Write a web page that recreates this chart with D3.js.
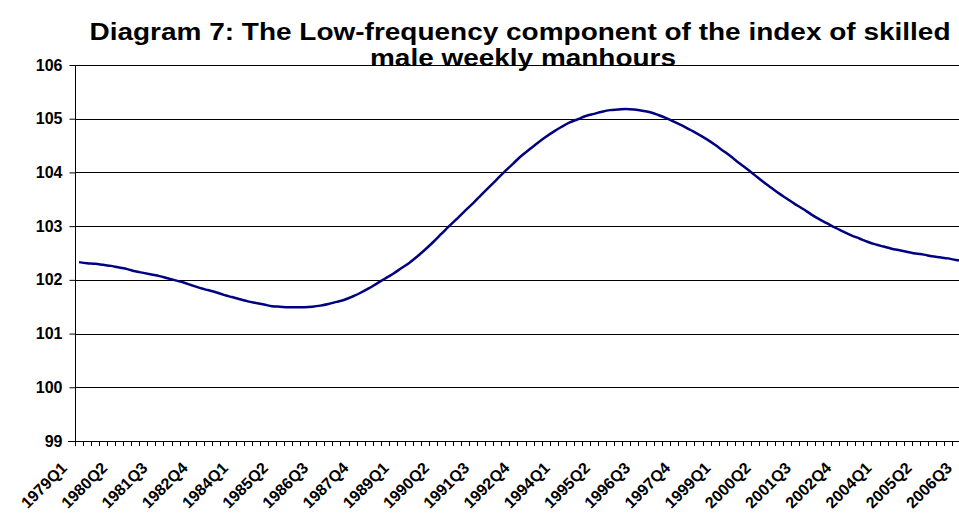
<!DOCTYPE html>
<html>
<head>
<meta charset="utf-8">
<script src="https://cdn.jsdelivr.net/npm/d3@7"></script>
<style>
  body { margin: 0; background: #fff; }
  svg { display: block; font-family: "Liberation Sans", Arial, sans-serif; }
</style>
</head>
<body>
<div id="chart"></div>
<script>
(function() {
  var width = 959, height = 517;

  var titleLines = ['Diagram 7: The Low-frequency component of the index of skilled', 'male weekly manhours'];
  var titleWidths = [861, 306];

  // quarters 1979Q1 .. 2006Q4
  var quarters = [];
  for (var yr = 1979; yr <= 2006; yr++) {
    for (var q = 1; q <= 4; q++) quarters.push(yr + 'Q' + q);
  }

  var yTicks = [99, 100, 101, 102, 103, 104, 105, 106];

  // low-frequency component
  var values = [
    102.33, 102.31, 102.30, 102.28, 102.26, 102.23, 102.20, 102.16, 102.13, 102.10,
    102.07, 102.03, 101.99, 101.95, 101.90, 101.85, 101.81, 101.77, 101.72, 101.68,
    101.64, 101.60, 101.57, 101.54, 101.51, 101.50, 101.49, 101.49, 101.49, 101.50,
    101.52, 101.55, 101.59, 101.63, 101.69, 101.76, 101.84, 101.93, 102.02, 102.11,
    102.21, 102.31, 102.43, 102.56, 102.70, 102.85, 103.00, 103.14, 103.29, 103.43,
    103.58, 103.73, 103.88, 104.03, 104.17, 104.31, 104.43, 104.55, 104.66, 104.76,
    104.85, 104.93, 104.99, 105.05, 105.09, 105.13, 105.16, 105.17, 105.18, 105.17,
    105.15, 105.12, 105.07, 105.01, 104.94, 104.87, 104.79, 104.71, 104.62, 104.52,
    104.41, 104.30, 104.18, 104.07, 103.95, 103.83, 103.72, 103.61, 103.51, 103.41,
    103.32, 103.22, 103.13, 103.05, 102.97, 102.90, 102.83, 102.77, 102.71, 102.66,
    102.62, 102.58, 102.55, 102.52, 102.49, 102.47, 102.44, 102.42, 102.40, 102.37,
    102.36, 102.34
  ];

  var left = 75, top = 65, bottom = 441;
  var step = 8.045;
  var right = left + step * quarters.length;

  var svg = d3.select('#chart').append('svg')
    .attr('width', width)
    .attr('height', height);

  var x = d3.scaleBand().domain(quarters).range([left, right]).padding(0);
  var y = d3.scaleLinear().domain([99, 106]).range([bottom, top]);

  // title (stretched wide like the original)
  svg.selectAll('text.title').data(titleLines).enter().append('text')
    .attr('class', 'title')
    .attr('x', function(d, i) { return i ? 523 : 520; })
    .attr('y', function(d, i) { return 40 + i * 26; })
    .attr('text-anchor', 'middle')
    .attr('font-size', '23px')
    .attr('font-weight', 'bold')
    .attr('textLength', function(d, i) { return titleWidths[i]; })
    .attr('lengthAdjust', 'spacingAndGlyphs')
    .text(function(d) { return d; });

  // gridlines
  svg.selectAll('line.grid').data(yTicks.slice(1)).enter().append('line')
    .attr('class', 'grid')
    .attr('x1', left).attr('x2', width)
    .attr('y1', function(d) { return Math.round(y(d)) + 0.5; })
    .attr('y2', function(d) { return Math.round(y(d)) + 0.5; })
    .attr('stroke', '#000')
    .attr('stroke-width', 1);

  // y axis
  var yAxis = d3.axisLeft(y).tickValues(yTicks).tickSize(6).tickFormat(d3.format('d'));
  var gy = svg.append('g').attr('transform', 'translate(' + (left + 0.5) + ',0)').call(yAxis);
  gy.select('.domain').attr('d', 'M0,' + top + 'V' + bottom);
  gy.selectAll('.tick line').attr('stroke', '#000');
  gy.selectAll('.tick text')
    .attr('x', -13)
    .attr('font-size', '16px')
    .attr('font-weight', 'bold')
    .attr('font-family', '"Liberation Sans", Arial, sans-serif')
    .attr('fill', '#000');

  // x axis line + ticks at category boundaries
  var xa = svg.append('g');
  xa.append('line')
    .attr('x1', left - 7).attr('x2', width)
    .attr('y1', bottom + 0.5).attr('y2', bottom + 0.5)
    .attr('stroke', '#000');
  xa.selectAll('line.xt').data(quarters).enter().append('line')
    .attr('class', 'xt')
    .attr('x1', function(d) { return Math.round(x(d)) + 0.5; })
    .attr('x2', function(d) { return Math.round(x(d)) + 0.5; })
    .attr('y1', bottom).attr('y2', bottom + 5)
    .attr('stroke', '#000');

  xa.selectAll('text').data(quarters.filter(function(d, i) { return i % 5 === 0; })).enter().append('text')
    .attr('transform', function(d) {
      return 'translate(' + (x(d) + x.bandwidth() / 2 - 11) + ',' + 469 + ') rotate(-45)';
    })
    .attr('text-anchor', 'end')
    .attr('font-size', '16px')
    .attr('font-weight', 'bold')
    .text(function(d) { return d; });

  // series
  var line = d3.line()
    .x(function(d, i) { return x(quarters[i]) + x.bandwidth() / 2; })
    .y(function(d) { return y(d); })
    .curve(d3.curveCatmullRom);

  svg.append('path')
    .datum(values)
    .attr('d', line)
    .attr('fill', 'none')
    .attr('stroke', '#000080')
    .attr('stroke-width', 2.5);
}).call(this);
</script>
</body>
</html>
